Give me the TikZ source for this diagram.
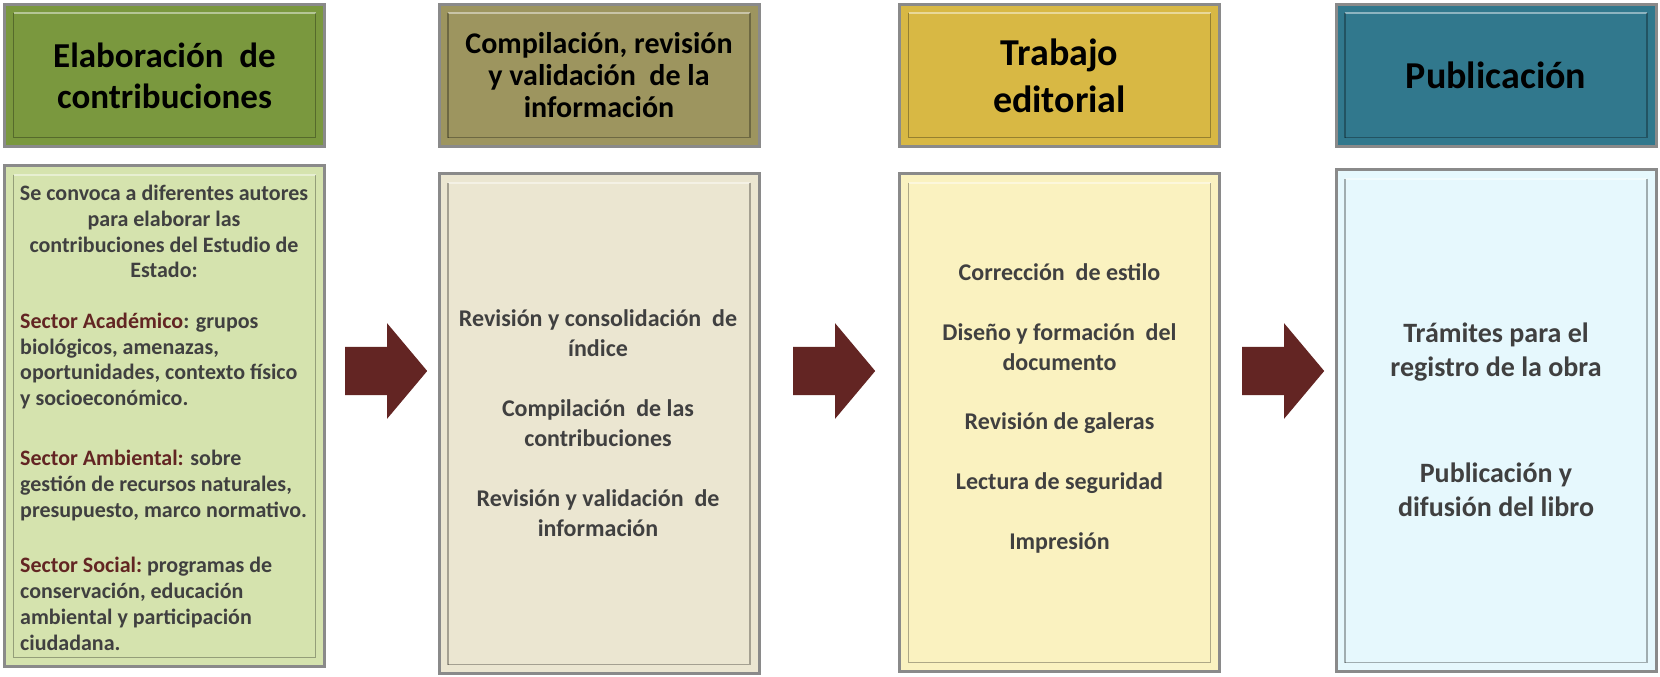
\documentclass[tikz,border=0pt]{standalone}
\usepackage{fontspec}
\setmainfont{Carlito}
\usetikzlibrary{shapes.arrows}
\definecolor{framegray}{HTML}{8A8A8A}
\definecolor{itemgray}{HTML}{404040}
\definecolor{sectred}{HTML}{632523}
\definecolor{arrowred}{HTML}{632523}
\definecolor{headone}{HTML}{7A983E}
\definecolor{bodyone}{HTML}{D5E3AE}
\definecolor{headtwo}{HTML}{9D955F}
\definecolor{bodytwo}{HTML}{EBE6D1}
\definecolor{headthree}{HTML}{D8B844}
\definecolor{bodythree}{HTML}{FAF2C0}
\definecolor{headfour}{HTML}{31788D}
\definecolor{bodyfour}{HTML}{E6F8FD}

\begin{document}
\begin{tikzpicture}[x=1pt,y=-1pt,
              panel/.style={draw=framegray, line width=3pt, inner sep=0pt, outer sep=0pt, minimum width=320pt},
              head/.style={panel, minimum height=142pt, text=black, align=center},
              item/.style={text=itemgray, align=center, inner sep=0pt, font=\bfseries\fontsize{24}{29.5}\selectfont},
              small/.style={text=itemgray, inner sep=0pt, font=\bfseries\fontsize{22}{25.8}\selectfont},
              flow/.style={single arrow, fill=arrowred, inner sep=0pt, inner ysep=24pt, minimum height=82pt,
                           single arrow head extend=23.5pt, single arrow tip angle=100, anchor=tail},
              bevel light/.style={draw=white, opacity=.45, line width=2pt},
              bevel dark/.style={draw=black, opacity=.3, line width=1.5pt},
             ]
\useasboundingbox (0,0) rectangle (1660,677);

% header row
\node[head, fill=headone, font=\bfseries\fontsize{35}{41}\selectfont] (h1) at (164.5,75.5) {Elaboración\ \ de\\contribuciones};
\node[head, fill=headtwo, font=\bfseries\fontsize{30}{32}\selectfont] (h2) at (599,75.5) {Compilación, revisión\\y validación\ \ de la\\información};
\node[head, fill=headthree, font=\bfseries\fontsize{38}{47}\selectfont] (h3) at (1059.5,75.5) {Trabajo\\editorial};
\node[head, fill=headfour, font=\bfseries\fontsize{38}{46}\selectfont] (h4) at (1496,75.5) {Publicación};

% body row
\node[panel, fill=bodyone, minimum height=501pt] (b1) at (164.5,416) {};
\node[panel, fill=bodytwo, minimum height=500pt] (b2) at (599,423.5) {};
\node[panel, fill=bodythree, minimum height=498pt] (b3) at (1059.5,422.5) {};
\node[panel, fill=bodyfour, minimum height=502pt] (b4) at (1496,420.5) {};

\foreach \p in {h1,h2,h3,h4,b1,b2,b3,b4}{
  \draw[bevel light] ([shift={(9,9)}]\p.north west) -- ([shift={(-9,9)}]\p.north east);
  \draw[bevel dark] ([shift={(9,9)}]\p.north west) -- ([shift={(9,-9)}]\p.south west);
  \draw[bevel dark] ([shift={(-9,9)}]\p.north east) -- ([shift={(-9,-9)}]\p.south east) -- ([shift={(9,-9)}]\p.south west);
}

% texts of the bodies
\node[small, align=center] (intro) at (164,231.5) {Se convoca a diferentes autores\\para elaborar las\\contribuciones del Estudio de\\Estado:};
\node[small, align=left, anchor=west] (acad) at (20,361) {\textcolor{sectred}{Sector Académico}: grupos\\biológicos, amenazas,\\oportunidades, contexto físico\\y socioeconómico.};
\node[small, align=left, anchor=west] (amb) at (20,485.5) {\textcolor{sectred}{Sector Ambiental:} sobre\\gestión de recursos naturales,\\presupuesto, marco normativo.};
\node[small, align=left, anchor=west] (soc) at (20,604) {\textcolor{sectred}{Sector Social:}\ programas de\\conservación, educación\\ambiental y participación\\ciudadana.};

\node[item, font=\bfseries\fontsize{24}{30}\selectfont] (rev) at (598,423) {Revisión y consolidación\ \ de\\índice\\[30pt]Compilación\ \ de las\\contribuciones\\[30pt]Revisión y validación\ \ de\\información};
\node[item] (edit) at (1059.5,408.5) {Corrección\ \ de estilo\\[31pt]Diseño y formación\ \ del\\documento\\[30pt]Revisión de galeras\\[30pt]Lectura de seguridad\\[31pt]Impresión};
\node[item, font=\bfseries\fontsize{28}{34}\selectfont] (pub) at (1496,420) {Trámites para el\\registro de la obra\\[72pt]Publicación y\\difusión del libro};

% arrows between the columns
\node[flow] (a1) at (345,371) {};
\node[flow] (a2) at (793,371) {};
\node[flow] (a3) at (1242,371) {};
\end{tikzpicture}
\end{document}
